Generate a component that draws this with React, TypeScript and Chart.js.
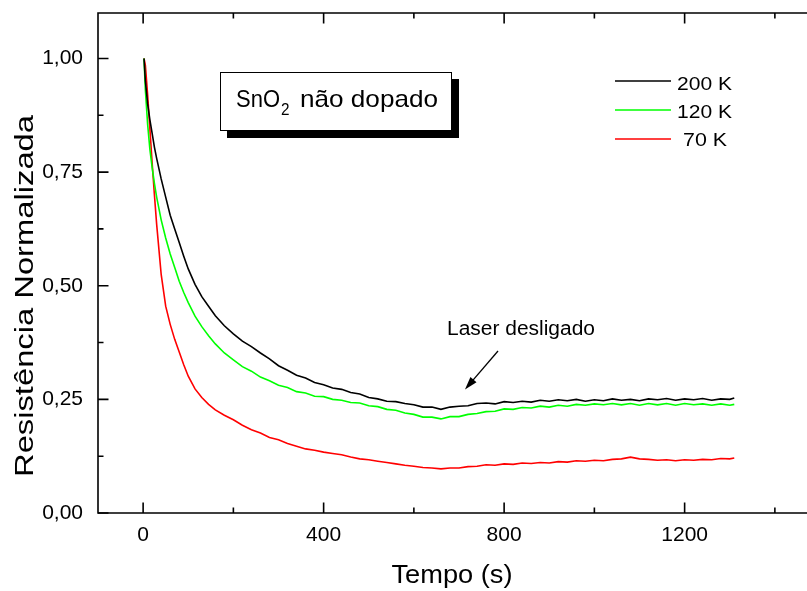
import React, { useEffect, useRef } from 'react';
import { Chart, registerables } from 'chart.js';
Chart.register(...registerables);

// ---- data (time in s, normalized resistance) ----
const TIME = [2, 5, 10, 15, 20, 25, 30, 40, 50, 60, 70, 80, 90, 100, 115, 130, 145, 160, 180, 200,
  220, 240, 260, 280, 300, 320, 340, 360, 380, 400, 420, 440, 460, 480, 500, 520, 540, 560, 580, 600,
  620, 640, 660, 680, 700, 720, 740, 760, 780, 800, 820, 840, 860, 880, 900, 920, 940, 960, 980, 1000,
  1020, 1040, 1060, 1080, 1100, 1120, 1140, 1160, 1180, 1200, 1220, 1240, 1260, 1280, 1300, 1310];

const K200 = [1.00, 0.95, 0.90, 0.865, 0.835, 0.805, 0.78, 0.735, 0.695, 0.655, 0.625, 0.595, 0.565, 0.537, 0.503, 0.476, 0.455, 0.434, 0.412, 0.394,
  0.378, 0.366, 0.352, 0.339, 0.324, 0.314, 0.303, 0.297, 0.287, 0.282, 0.275, 0.272, 0.265, 0.262, 0.254, 0.251, 0.246, 0.245, 0.241, 0.238,
  0.233, 0.233, 0.228, 0.233, 0.235, 0.236, 0.241, 0.242, 0.240, 0.245, 0.243, 0.246, 0.244, 0.248, 0.246, 0.249, 0.247, 0.250, 0.246, 0.249,
  0.247, 0.251, 0.248, 0.250, 0.247, 0.251, 0.249, 0.252, 0.248, 0.251, 0.249, 0.252, 0.248, 0.251, 0.250, 0.253];

const K120 = [1.00, 0.93, 0.855, 0.80, 0.76, 0.725, 0.695, 0.645, 0.605, 0.57, 0.54, 0.51, 0.485, 0.463, 0.433, 0.41, 0.39, 0.372, 0.352, 0.337,
  0.322, 0.312, 0.299, 0.291, 0.281, 0.276, 0.267, 0.264, 0.257, 0.256, 0.250, 0.248, 0.243, 0.242, 0.236, 0.234, 0.228, 0.226, 0.220, 0.217,
  0.211, 0.211, 0.207, 0.212, 0.212, 0.217, 0.219, 0.223, 0.224, 0.229, 0.228, 0.232, 0.231, 0.235, 0.233, 0.237, 0.235, 0.239, 0.237, 0.240,
  0.238, 0.241, 0.238, 0.241, 0.237, 0.241, 0.238, 0.241, 0.237, 0.241, 0.238, 0.240, 0.237, 0.240, 0.237, 0.239];

const K70 = [1.00, 0.985, 0.92, 0.845, 0.77, 0.70, 0.635, 0.525, 0.455, 0.415, 0.382, 0.354, 0.326, 0.301, 0.273, 0.254, 0.239, 0.227, 0.215, 0.205,
  0.193, 0.183, 0.176, 0.166, 0.161, 0.153, 0.147, 0.141, 0.138, 0.134, 0.131, 0.128, 0.123, 0.119, 0.117, 0.114, 0.111, 0.108, 0.105, 0.103,
  0.100, 0.099, 0.097, 0.099, 0.099, 0.102, 0.103, 0.106, 0.105, 0.108, 0.107, 0.110, 0.109, 0.111, 0.110, 0.113, 0.112, 0.115, 0.114, 0.116,
  0.115, 0.118, 0.119, 0.123, 0.119, 0.118, 0.116, 0.117, 0.115, 0.117, 0.116, 0.118, 0.117, 0.120, 0.119, 0.121];

const SERIES_LABELS = ['200 K', '120 K', '70 K'];
const SERIES_COLORS = ['#000000', '#00ff00', '#ff0000'];

const X_MAJOR = [0, 400, 800, 1200];
const X_MINOR = [200, 600, 1000, 1400];
const Y_MAJOR = [0, 0.25, 0.5, 0.75, 1.0];
const Y_MINOR = [0.125, 0.375, 0.625, 0.875];

const X_TITLE = 'Tempo (s)';
const Y_TITLE = 'Resistência Normalizada';
const ANNOT = 'Laser desligado';

const FONT = '"Liberation Sans", Arial, sans-serif';

function drawText(ctx: CanvasRenderingContext2D, text: string, x: number, y: number, size: number, target: number, align: 'left' | 'center') {
  ctx.font = `${size}px ${FONT}`;
  const w = ctx.measureText(text).width;
  const s = target / w;
  ctx.save();
  ctx.translate(x, y);
  ctx.scale(s, 1);
  ctx.textAlign = 'left';
  ctx.textBaseline = 'alphabetic';
  ctx.fillStyle = '#000';
  ctx.fillText(text, align === 'center' ? -w / 2 : 0, 0);
  ctx.restore();
}

const decoPlugin = {
  id: 'deco',
  afterDraw(chart: any) {
    const ctx: CanvasRenderingContext2D = chart.ctx;
    const { left, top, bottom } = chart.chartArea;
    const W = chart.width;
    const xs = chart.scales.x;
    const ys = chart.scales.y;
    ctx.save();
    ctx.strokeStyle = '#000';
    ctx.lineWidth = 1.6;
    // frame
    ctx.beginPath();
    ctx.moveTo(W, top); ctx.lineTo(left, top); ctx.lineTo(left, bottom); ctx.lineTo(W, bottom);
    ctx.stroke();
    // ticks (inward)
    const MAJ = 10.5, MIN = 5.5;
    ctx.beginPath();
    const xt = (v: number, len: number) => {
      const p = xs.getPixelForValue(v);
      ctx.moveTo(p, bottom); ctx.lineTo(p, bottom - len);
      ctx.moveTo(p, top); ctx.lineTo(p, top + len);
    };
    X_MAJOR.forEach(v => xt(v, MAJ));
    X_MINOR.forEach(v => xt(v, MIN));
    const yt = (v: number, len: number) => {
      const p = ys.getPixelForValue(v);
      ctx.moveTo(left, p); ctx.lineTo(left + len, p);
    };
    Y_MAJOR.forEach(v => yt(v, MAJ));
    Y_MINOR.forEach(v => yt(v, MIN));
    ctx.stroke();

    // axis titles
    drawText(ctx, X_TITLE, 452, 583, 25, 121, 'center');
    ctx.save();
    ctx.translate(33, 296);
    ctx.rotate(-Math.PI / 2);
    drawText(ctx, Y_TITLE, 0, 0, 25, 362, 'center');
    ctx.restore();

    // legend
    const legY = [81, 110, 139];
    const legBase = [90, 118, 146];
    const legTx = [677, 677, 683];
    const legW = [55, 55, 44];
    SERIES_LABELS.forEach((lab, i) => {
      ctx.strokeStyle = SERIES_COLORS[i];
      ctx.lineWidth = 1.3;
      ctx.beginPath();
      ctx.moveTo(615, legY[i]); ctx.lineTo(671, legY[i]);
      ctx.stroke();
      drawText(ctx, lab, legTx[i], legBase[i], 19, legW[i], 'left');
    });

    // label box with shadow
    ctx.fillStyle = '#000';
    ctx.fillRect(227, 79, 232, 59);
    ctx.fillStyle = '#fff';
    ctx.fillRect(220, 72, 232, 59);
    ctx.strokeStyle = '#000';
    ctx.lineWidth = 1;
    ctx.strokeRect(220.5, 72.5, 231, 58);
    drawText(ctx, 'SnO', 236, 107, 24, 44, 'left');
    drawText(ctx, '2', 281, 115, 16, 8.5, 'left');
    drawText(ctx, 'não dopado', 300, 107, 24, 138, 'left');

    // annotation + arrow
    drawText(ctx, ANNOT, 447, 335, 20, 148, 'left');
    const tx = 465, ty = 389.5, sx = 498, sy = 351;
    const ang = Math.atan2(ty - sy, tx - sx);
    ctx.strokeStyle = '#000';
    ctx.lineWidth = 1.3;
    ctx.beginPath();
    ctx.moveTo(sx, sy);
    ctx.lineTo(tx - 8 * Math.cos(ang), ty - 8 * Math.sin(ang));
    ctx.stroke();
    const hl = 13, hw = 4;
    const bx = tx - hl * Math.cos(ang), by = ty - hl * Math.sin(ang);
    ctx.fillStyle = '#000';
    ctx.beginPath();
    ctx.moveTo(tx, ty);
    ctx.lineTo(bx + hw * Math.sin(ang), by - hw * Math.cos(ang));
    ctx.lineTo(bx - hw * Math.sin(ang), by + hw * Math.cos(ang));
    ctx.closePath();
    ctx.fill();
    ctx.restore();
  },
};

export default function App() {
  const ref = useRef<HTMLCanvasElement>(null);
  useEffect(() => {
    if (!ref.current) return;
    const mk = (vals: number[]) => TIME.map((t, i) => ({ x: t, y: vals[i] }));
    const chart = new Chart(ref.current, {
      type: 'line',
      data: {
        datasets: [K200, K120, K70].map((vals, i) => ({
          label: SERIES_LABELS[i],
          data: mk(vals),
          borderColor: SERIES_COLORS[i],
          backgroundColor: SERIES_COLORS[i],
          borderWidth: 1.6,
          pointRadius: 0,
          tension: 0,
          fill: false,
        })),
      },
      options: {
        responsive: false,
        animation: false,
        events: [],
        layout: { padding: { left: 0, top: 13, right: 10, bottom: 0 } },
        plugins: { legend: { display: false }, tooltip: { enabled: false }, title: { display: false } },
        scales: {
          x: {
            type: 'linear',
            min: -100,
            max: 1500,
            grid: { display: false, drawTicks: false },
            border: { display: false },
            afterBuildTicks: (s: any) => { s.ticks = X_MAJOR.map(v => ({ value: v })); },
            afterFit: (s: any) => { s.height = 78; s.paddingLeft = 0; s.paddingRight = 0; },
            ticks: {
              padding: 10,
              color: '#000',
              font: { family: FONT, size: 21 },
              maxRotation: 0,
              callback: (v: any) => String(v),
            },
          },
          y: {
            type: 'linear',
            min: 0,
            max: 1.1,
            grid: { display: false, drawTicks: false },
            border: { display: false },
            afterBuildTicks: (s: any) => { s.ticks = Y_MAJOR.map(v => ({ value: v })); },
            afterFit: (s: any) => { s.width = 98; s.paddingTop = 0; s.paddingBottom = 0; },
            ticks: {
              padding: 15,
              color: '#000',
              font: { family: FONT, size: 21 },
              callback: (v: any) => Number(v).toFixed(2).replace('.', ','),
            },
          },
        },
      },
      plugins: [decoPlugin],
    });
    return () => chart.destroy();
  }, []);
  return (
    <div style={{ position: 'absolute', left: 0, top: 0, width: 807, height: 591, overflow: 'hidden', background: '#fff' }}>
      <canvas ref={ref} width={830} height={591} style={{ display: 'block' }} />
    </div>
  );
}
